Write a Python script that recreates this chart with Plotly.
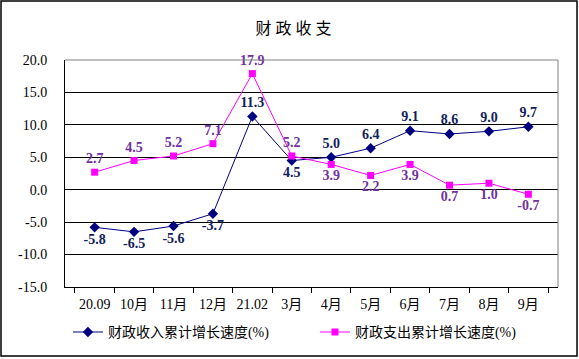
import plotly.graph_objects as go

categories = ["20.09", "10月", "11月", "12月", "21.02", "3月", "4月", "5月", "6月", "7月", "8月", "9月"]
revenue = [-5.8, -6.5, -5.6, -3.7, 11.3, 4.5, 5.0, 6.4, 9.1, 8.6, 9.0, 9.7]
expenditure = [2.7, 4.5, 5.2, 7.1, 17.9, 5.2, 3.9, 2.2, 3.9, 0.7, 1.0, -0.7]
revenue_name = "财政收入累计增长速度(%)"
expenditure_name = "财政支出累计增长速度(%)"
title_text = "财 政 收 支"
y_ticks = [20, 15, 10, 5, 0, -5, -10, -15]

rev_pos = ["bottom center"] * 4 + ["top center", "bottom center"] + ["top center"] * 6
exp_pos = ["top center"] * 6 + ["bottom center"] * 6

SERIF = "Times New Roman, Liberation Serif, Noto Sans CJK SC"

fig = go.Figure()
fig.add_trace(go.Scatter(
    x=categories, y=revenue, name=revenue_name, mode="lines+markers+text",
    line=dict(color="#000080", width=1),
    marker=dict(symbol="diamond", size=8, color="#000080"),
    text=[f"<b>{v:.1f}</b>" for v in revenue], textposition=rev_pos,
    textfont=dict(family=SERIF, size=14, color="#10205A"),
    cliponaxis=False, legend="legend",
))
fig.add_trace(go.Scatter(
    x=categories, y=expenditure, name=expenditure_name, mode="lines+markers+text",
    line=dict(color="#FF00FF", width=1),
    marker=dict(symbol="square", size=7, color="#FF00FF"),
    text=[f"<b>{v:.1f}</b>" for v in expenditure], textposition=exp_pos,
    textfont=dict(family=SERIF, size=14, color="#7030A0"),
    cliponaxis=False, legend="legend2",
))

legend_common = dict(font=dict(family=SERIF, size=14, color="black"),
                     bgcolor="rgba(0,0,0,0)", itemwidth=30, yanchor="middle", xanchor="left")

fig.update_layout(
    width=579, height=359,
    margin=dict(l=65, r=21, t=60, b=72, autoexpand=False),
    paper_bgcolor="white", plot_bgcolor="white",
    font=dict(family=SERIF, size=14, color="black"),
    title=dict(text=title_text, x=0.507, xanchor="center", y=0.92, yanchor="middle",
               font=dict(family=SERIF, size=16, color="black")),
    showlegend=True,
    legend=dict(x=0.006, y=-0.2, **legend_common),
    legend2=dict(x=0.507, y=-0.2, **legend_common),
    xaxis=dict(type="category", showgrid=False, showline=True, linecolor="black", linewidth=1,
               ticks="outside", ticklen=5, tickcolor="black", tickson="boundaries", tickangle=0,
               ticklabelstandoff=4, tickfont=dict(family=SERIF, size=14), automargin=False),
    yaxis=dict(range=[-15, 20], tickvals=y_ticks, ticktext=[f"{v:.1f}" for v in y_ticks],
               showgrid=True, gridcolor="black", gridwidth=1, zeroline=False,
               showline=True, linecolor="black", linewidth=1, ticks="",
               ticklabelstandoff=14, tickfont=dict(family=SERIF, size=14), automargin=False),
    shapes=[
        dict(type="path", xref="paper", yref="paper", path="M 0,1 L 1,1 L 1,0",
             line=dict(color="#808080", width=1), layer="above"),
        dict(type="rect", xref="paper", yref="paper", x0=-0.1298, x1=1.0386, y0=-0.3040, y1=1.2599,
             line=dict(color="black", width=1.5), layer="above"),
    ],
)

fig.write_html("out.html", config={"displayModeBar": False},
               post_script="document.body.style.margin='0';document.body.style.overflow='hidden';")
